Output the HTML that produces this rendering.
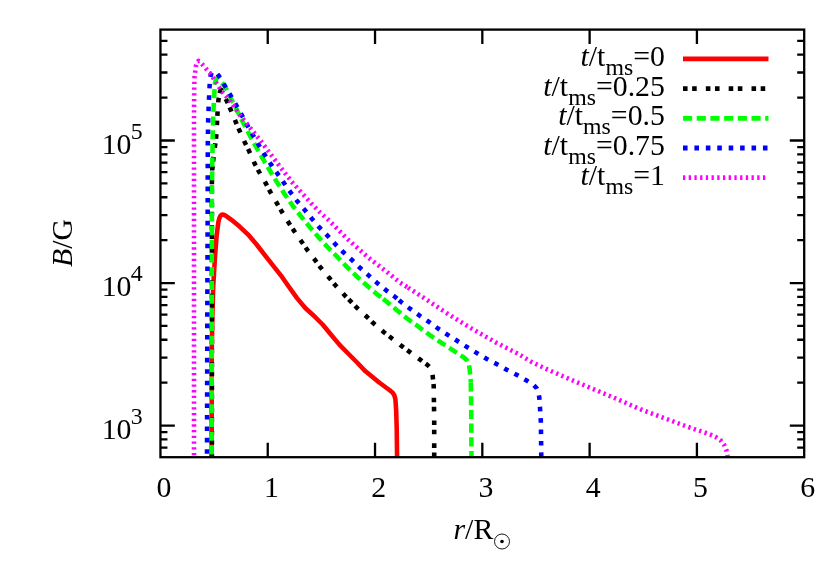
<!DOCTYPE html>
<html><head><meta charset="utf-8"><title>B/G vs r/R</title>
<style>html,body{margin:0;padding:0;background:#fff;}svg{display:block;will-change:transform;font-family:"Liberation Serif",serif;}</style></head><body>
<svg width="822" height="576" viewBox="0 0 822 576">
<rect width="822" height="576" fill="#fff"/>
<defs><clipPath id="clip"><rect x="160.45" y="29.60" width="643.75" height="427.60"/></clipPath></defs>
<g clip-path="url(#clip)" fill="none" stroke-width="4.57" stroke-linejoin="round">
<path d="M211.7 459.0 L211.8 350.0 L212.4 315.0 L213.2 287.0 L214.9 258.1 L216.6 236.0 L218.3 222.4 L219.3 218.3 L220.4 215.9 L221.6 214.8 L223.1 214.5 L225.2 215.4 L228.0 217.3 L231.1 219.6 L239.6 226.6 L248.1 234.6 L256.6 244.5 L265.2 255.6 L273.7 266.3 L282.2 277.2 L288.5 286.2 L297.0 298.1 L305.5 308.3 L314.1 316.0 L322.6 324.5 L331.1 334.7 L339.6 344.9 L348.1 353.5 L356.6 362.0 L365.5 371.3 L379.2 382.5 L389.4 390.0 L392.5 392.5 L394.3 395.3 L395.4 399.2 L396.2 411.1 L396.7 428.1 L397.1 459.0" stroke="#ff0000"/>
<path d="M211.9 459.0 L211.9 183.0 L212.3 169.0 L213.3 159.6 L215.0 146.0 L216.2 136.6 L217.0 123.0 L217.6 112.0 L218.4 100.1 L220.2 91.0 L221.5 90.2 L226.8 101.1 L230.6 109.5 L235.8 122.1 L239.5 130.7 L245.1 143.1 L249.1 151.1 L254.8 163.9 L259.1 171.9 L265.9 183.5 L270.3 192.0 L277.1 203.6 L281.9 211.8 L289.0 223.2 L294.1 230.9 L301.8 242.0 L307.1 249.7 L315.3 260.4 L320.8 267.8 L329.6 278.3 L335.4 285.3 L344.7 295.3 L348.7 299.4" stroke="#000000" stroke-dasharray="4.57 4.57 4.57 9.13" stroke-dashoffset="8.44"/>
<path d="M348.7 299.4 L356.6 307.5 L366.9 316.8 L373.3 323.1 L383.9 332.2 L391.1 337.8 L401.8 346.1 L409.2 351.6 L419.5 359.2 L427.5 365.0 L430.5 368.0 L432.2 372.0 L432.8 377.0 L433.7 386.0 L434.2 420.0 L434.2 459.0" stroke="#000000" stroke-dasharray="4.57 4.57 4.57 9.13" stroke-dashoffset="0.00"/>
<path d="M211.6 459.0 L211.9 190.0 L212.8 130.0 L213.6 107.7 L214.3 94.3 L214.8 84.0 L215.7 80.3 L217.0 78.3 L218.6 78.6 L224.0 85.2 L226.4 89.2 L231.7 99.9 L237.2 110.5 L240.9 118.5 L249.4 134.6 L255.4 145.7 L262.2 157.6 L269.8 170.5 L276.6 181.6 L284.5 193.9 L292.4 205.3 L300.6 215.9 L309.0 226.1 L318.0 236.6 L328.1 247.7 L337.5 257.1 L346.8 266.9 L356.9 276.5 L366.9 285.5 L376.4 293.7 L382.0 298.0" stroke="#00ff00" stroke-dasharray="9.13 4.57" stroke-dashoffset="9.10"/>
<path d="M382.0 298.0 L386.5 301.5 L397.2 310.4 L407.7 319.0 L418.7 326.8 L430.3 335.4 L441.7 343.0 L452.8 350.2 L463.9 357.5 L467.0 360.3 L468.8 364.0 L469.6 368.5 L470.8 382.1 L470.8 382.5" stroke="#00ff00" stroke-dasharray="9.13 4.57" stroke-dashoffset="12.20"/>
<path d="M470.8 382.5 L471.2 411.1 L471.5 459.0" stroke="#00ff00" stroke-dasharray="9.13 4.57" stroke-dashoffset="0.00"/>
<path d="M207.0 459.0 L207.3 315.0 L207.7 200.0 L207.8 143.0 L208.2 119.0 L208.6 108.6 L209.1 97.0 L209.6 86.0 L210.2 78.0 L210.8 75.0 L211.8 72.8 L213.5 71.6 L215.2 71.8 L216.8 73.3 L218.7 75.7 L224.6 85.4 L230.5 95.3 L236.2 105.2 L241.8 115.2 L247.4 125.5 L253.1 135.4 L258.8 145.1 L264.7 154.8 L271.0 164.4 L277.5 173.6 L284.0 183.0 L290.6 192.4 L297.5 201.6 L305.0 210.3 L312.1 219.0 L319.4 227.4 L327.6 235.8 L335.4 244.3 L343.4 252.3 L352.0 260.0 L360.0 267.8 L368.6 275.4 L377.1 282.9 L385.9 290.1 L395.2 297.0 L399.0 300.2" stroke="#0000ff" stroke-dasharray="4.57 6.85" stroke-dashoffset="6.22"/>
<path d="M399.0 300.2 L400.9 301.8 L410.0 308.7 L419.0 315.2 L428.6 321.7 L438.0 328.5 L447.7 334.8 L457.1 340.8 L466.8 346.9 L476.6 352.9 L486.5 358.7 L496.6 364.1 L506.4 369.6 L516.6 374.8 L526.5 380.4 L533.0 384.5 L536.5 388.0 L538.3 392.0 L539.3 397.5 L540.1 409.4 L540.8 420.5 L541.0 432.4 L541.3 459.0" stroke="#0000ff" stroke-dasharray="4.57 6.85" stroke-dashoffset="0.00"/>
<path d="M194.0 459.0 L194.0 120.0 L194.2 90.0 L194.5 77.3 L195.2 71.8 L195.9 66.1 L197.0 62.6 L198.4 60.9 L199.8 61.6 L202.5 64.6 L210.4 73.7 L221.4 90.8 L230.7 101.7 L240.0 115.3 L251.1 129.0 L261.3 141.7 L271.5 155.4 L281.8 169.0 L292.8 183.0 L302.4 193.5 L311.2 203.3 L319.7 212.1 L328.1 219.6 L348.5 240.0 L369.8 258.8 L388.6 273.2 L400.0 282.6 L408.1 287.6" stroke="#ff00ff" stroke-dasharray="2.28 3.43" stroke-dashoffset="1.91"/>
<path d="M408.1 287.6 L408.2 287.7 L423.3 297.5 L446.8 313.2 L471.5 328.5 L495.4 342.2 L519.2 354.4 L532.0 362.2 L548.1 369.8 L568.6 378.7 L589.0 387.3 L609.4 395.8 L620.0 400.3 L640.9 409.5 L661.3 417.1 L681.8 424.7 L694.9 429.3 L705.8 432.9 L711.0 434.9 L716.3 437.4 L720.9 440.7 L724.1 444.8 L726.5 450.5 L727.4 455.2 L727.6 459.0" stroke="#ff00ff" stroke-dasharray="2.28 3.43" stroke-dashoffset="0.00"/>
</g>
<path d="M267.74 457.20 v-14.40 M267.74 29.60 v14.40 M375.03 457.20 v-14.40 M375.03 29.60 v14.40 M482.32 457.20 v-14.40 M482.32 29.60 v14.40 M589.62 457.20 v-14.40 M589.62 29.60 v14.40 M696.91 457.20 v-14.40 M696.91 29.60 v14.40 M160.45 447.66 h7.00 M804.20 447.66 h-7.00 M160.45 439.39 h7.00 M804.20 439.39 h-7.00 M160.45 432.10 h7.00 M804.20 432.10 h-7.00 M160.45 425.58 h14.40 M804.20 425.58 h-14.40 M160.45 382.67 h7.00 M804.20 382.67 h-7.00 M160.45 357.57 h7.00 M804.20 357.57 h-7.00 M160.45 339.77 h7.00 M804.20 339.77 h-7.00 M160.45 325.95 h7.00 M804.20 325.95 h-7.00 M160.45 314.67 h7.00 M804.20 314.67 h-7.00 M160.45 305.12 h7.00 M804.20 305.12 h-7.00 M160.45 296.86 h7.00 M804.20 296.86 h-7.00 M160.45 289.57 h7.00 M804.20 289.57 h-7.00 M160.45 283.05 h14.40 M804.20 283.05 h-14.40 M160.45 240.14 h7.00 M804.20 240.14 h-7.00 M160.45 215.04 h7.00 M804.20 215.04 h-7.00 M160.45 197.23 h7.00 M804.20 197.23 h-7.00 M160.45 183.42 h7.00 M804.20 183.42 h-7.00 M160.45 172.13 h7.00 M804.20 172.13 h-7.00 M160.45 162.59 h7.00 M804.20 162.59 h-7.00 M160.45 154.33 h7.00 M804.20 154.33 h-7.00 M160.45 147.03 h7.00 M804.20 147.03 h-7.00 M160.45 140.51 h14.40 M804.20 140.51 h-14.40 M160.45 97.61 h7.00 M804.20 97.61 h-7.00 M160.45 72.51 h7.00 M804.20 72.51 h-7.00 M160.45 54.70 h7.00 M804.20 54.70 h-7.00 M160.45 40.89 h7.00 M804.20 40.89 h-7.00" stroke="#000" stroke-width="2.30" fill="none"/>
<rect x="160.45" y="29.60" width="643.75" height="427.60" fill="none" stroke="#000" stroke-width="2.30"/>
<text x="164.05" y="497" font-size="29.8" text-anchor="middle">0</text>
<text x="271.34" y="497" font-size="29.8" text-anchor="middle">1</text>
<text x="378.63" y="497" font-size="29.8" text-anchor="middle">2</text>
<text x="485.93" y="497" font-size="29.8" text-anchor="middle">3</text>
<text x="593.22" y="497" font-size="29.8" text-anchor="middle">4</text>
<text x="700.51" y="497" font-size="29.8" text-anchor="middle">5</text>
<text x="807.80" y="497" font-size="29.8" text-anchor="middle">6</text>
<text x="131.5" y="438.78" font-size="29.8" text-anchor="end">10</text>
<text x="130.8" y="423.68" font-size="23.8">3</text>
<text x="131.5" y="296.25" font-size="29.8" text-anchor="end">10</text>
<text x="130.8" y="281.15" font-size="23.8">4</text>
<text x="131.5" y="153.71" font-size="29.8" text-anchor="end">10</text>
<text x="130.8" y="138.61" font-size="23.8">5</text>
<text x="453.5" y="538.5" font-size="29.8"><tspan font-style="italic">r</tspan>/R</text>
<circle cx="502" cy="541.5" r="7.5" fill="none" stroke="#000" stroke-width="0.9"/><circle cx="502" cy="541.5" r="1.8" fill="#000"/>
<text transform="translate(72.2,267) rotate(-90)" font-size="29.8"><tspan font-style="italic">B</tspan>/G</text>
<path d="M683 58.9 H768.5" stroke="#ff0000" stroke-width="4.77" fill="none"/>
<text x="664.9" y="66.0" font-size="29.8" text-anchor="end"><tspan font-style="italic">t</tspan>/t<tspan font-size="23.8" dy="9">ms</tspan><tspan dy="-9">=0</tspan></text>
<path d="M683 88.6 H768.5" stroke="#000000" stroke-width="4.77" fill="none" stroke-dasharray="4.57 4.57 4.57 9.13"/>
<text x="664.9" y="95.7" font-size="29.8" text-anchor="end"><tspan font-style="italic">t</tspan>/t<tspan font-size="23.8" dy="9">ms</tspan><tspan dy="-9">=0.25</tspan></text>
<path d="M683 118.3 H768.5" stroke="#00ff00" stroke-width="4.77" fill="none" stroke-dasharray="9.13 4.57"/>
<text x="664.9" y="125.4" font-size="29.8" text-anchor="end"><tspan font-style="italic">t</tspan>/t<tspan font-size="23.8" dy="9">ms</tspan><tspan dy="-9">=0.5</tspan></text>
<path d="M683 148.0 H768.5" stroke="#0000ff" stroke-width="4.77" fill="none" stroke-dasharray="4.57 6.85"/>
<text x="664.9" y="155.1" font-size="29.8" text-anchor="end"><tspan font-style="italic">t</tspan>/t<tspan font-size="23.8" dy="9">ms</tspan><tspan dy="-9">=0.75</tspan></text>
<path d="M683 177.7 H768.5" stroke="#ff00ff" stroke-width="4.77" fill="none" stroke-dasharray="2.28 3.43"/>
<text x="664.9" y="184.8" font-size="29.8" text-anchor="end"><tspan font-style="italic">t</tspan>/t<tspan font-size="23.8" dy="9">ms</tspan><tspan dy="-9">=1</tspan></text>
</svg></body></html>
